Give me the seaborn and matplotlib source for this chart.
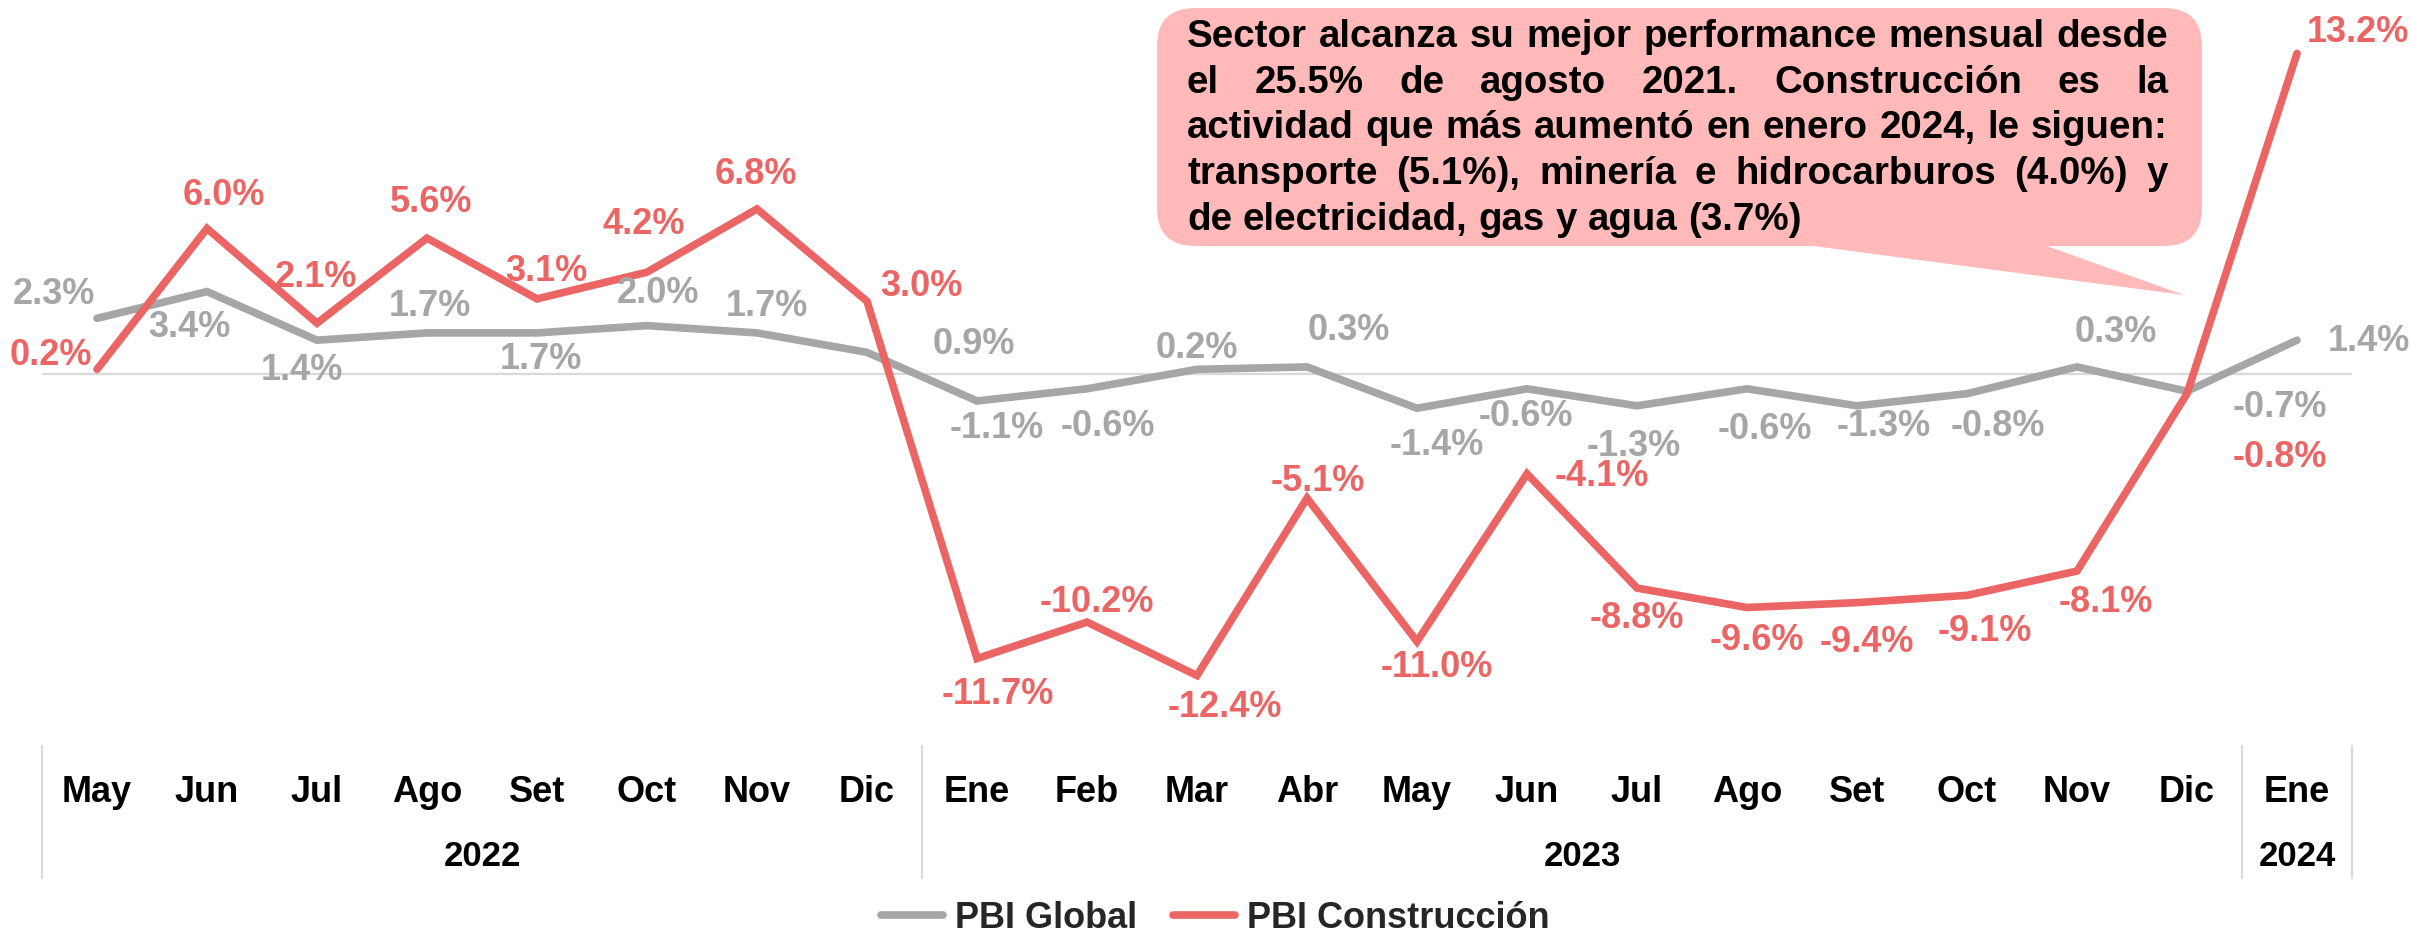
import numpy as np
import pandas as pd
import matplotlib
matplotlib.use("Agg")
import matplotlib.pyplot as plt
import seaborn as sns
from matplotlib.patches import FancyBboxPatch, Polygon
from matplotlib.lines import Line2D
from matplotlib.transforms import blended_transform_factory

# ── Data ───────────────────────────────────────────────────────────────────────
MONTHS = ["May", "Jun", "Jul", "Ago", "Set", "Oct", "Nov", "Dic",
          "Ene", "Feb", "Mar", "Abr", "May", "Jun", "Jul", "Ago", "Set", "Oct", "Nov", "Dic",
          "Ene"]
YEARS = ["2022", "2023", "2024"]
YEAR_SPANS = [(0, 7), (8, 19), (20, 20)]

PBI_GLOBAL = [2.3, 3.4, 1.4, 1.7, 1.7, 2.0, 1.7, 0.9, -1.1, -0.6, 0.2, 0.3,
              -1.4, -0.6, -1.3, -0.6, -1.3, -0.8, 0.3, -0.7, 1.4]
PBI_CONSTR = [0.2, 6.0, 2.1, 5.6, 3.1, 4.2, 6.8, 3.0, -11.7, -10.2, -12.4, -5.1,
              -11.0, -4.1, -8.8, -9.6, -9.4, -9.1, -8.1, -0.8, 13.2]

SERIES = ["PBI Global", "PBI Construcción"]

CALLOUT = [
    "Sector alcanza su mejor performance mensual desde",
    "el 25.5% de agosto 2021. Construcción es la",
    "actividad que más aumentó en enero 2024, le siguen:",
    "transporte (5.1%), minería e hidrocarburos (4.0%) y",
    "de electricidad, gas y agua (3.7%)",
]

# label offsets (points) relative to each point
GLOBAL_OFFS = [(-31, 17), (-13, -26), (-11, -22), (2, 19), (3, -19), (8, 23), (7, 19),
               (77, 6), (14, -20), (15, -27), (0, 15), (30, 26), (14, -27), (-1, -20),
               (-2, -29), (13, -29), (19, -15), (22, -24), (28, 25), (67, -12), (52, -1)]
CONSTR_OFFS = [(-33, 10), (12, 24), (-1, 33), (3, 26), (7, 20), (-2, 34), (-1, 25),
               (39, 11), (15, -26), (7, 14), (20, -23), (8, 12), (14, -19), (54, -2),
               (0, -22), (7, -24), (7, -29), (13, -26), (21, -23), (67, -46), (44, 15)]

GREY = "#A6A6A6"
RED = "#EC6565"
PINK = "#FFB9B9"
SEP = "#D9D9D9"

# ── Figure ─────────────────────────────────────────────────────────────────────
sns.set_style("white")
plt.rcParams["font.family"] = ["Liberation Sans", "DejaVu Sans"]
plt.rcParams["font.weight"] = "bold"

W, H = 24.12, 9.34
fig = plt.figure(figsize=(W, H), dpi=100)
ax = fig.add_axes([42 / 2412, 1 - 746 / 934, 2310 / 2412, 746 / 934])

n = len(MONTHS)
df = pd.DataFrame({
    "pos": list(range(n)) * 2,
    "value": PBI_GLOBAL + PBI_CONSTR,
    "serie": [SERIES[0]] * n + [SERIES[1]] * n,
})

ax.axhline(0, color=SEP, lw=1.6, zorder=1)
sns.lineplot(data=df, x="pos", y="value", hue="serie", palette=[GREY, RED],
             sort=False, lw=5.5, legend=False, ax=ax, zorder=3)
for line in ax.lines[1:]:
    line.set_solid_capstyle("round")
    line.set_solid_joinstyle("miter")

ax.set_xlim(-0.5, n - 0.5)
ax.set_ylim(-15.3, 15.4)
ax.axis("off")

for vals, offs, col in [(PBI_GLOBAL, GLOBAL_OFFS, GREY), (PBI_CONSTR, CONSTR_OFFS, RED)]:
    for i, (v, (dx, dy)) in enumerate(zip(vals, offs)):
        ax.annotate(f"{v:.1f}%", (i, v), xytext=(dx, dy), textcoords="offset points",
                    ha="center", va="center", fontsize=26, fontweight="bold",
                    color=col, zorder=4)

# ── Category table ────────────────────────────────────────────────────────────
tr = blended_transform_factory(ax.transData, fig.transFigure)
for i, m in enumerate(MONTHS):
    ax.text(i, 1 - 792 / 934, m, transform=tr, ha="center", va="center",
            fontsize=26, fontweight="bold", color="black")
for yr, (a, b) in zip(YEARS, YEAR_SPANS):
    ax.text((a + b) / 2, 1 - 857 / 934, yr, transform=tr, ha="center", va="center",
            fontsize=25, fontweight="bold", color="black")
for xs in [-0.5, 7.5, 19.5, 20.5]:
    fig.add_artist(Line2D([xs, xs], [1 - 746 / 934, 1 - 878 / 934], transform=tr,
                          color=SEP, lw=1.5, clip_on=False))

# ── Callout ───────────────────────────────────────────────────────────────────
inch = fig.dpi_scale_trans
def px(x, y):
    return (x / 100, (934 - y) / 100)

bx0, by0 = px(1157, 246)
bx1, by1 = px(2202, 8)
fig.add_artist(Polygon([px(1768, 240), px(2030, 240), px(2184, 295)], closed=True,
                       transform=inch, facecolor=PINK, edgecolor="none", zorder=5))
fig.add_artist(FancyBboxPatch((bx0, by0), bx1 - bx0, by1 - by0,
                              boxstyle="round,pad=0,rounding_size=0.38",
                              transform=inch, facecolor=PINK, edgecolor="none", zorder=5))

renderer = fig.canvas.get_renderer()
left, right = 1187 / 100, 2168 / 100

def text_w(s, size):
    t = fig.text(0, 0, s, fontsize=size, fontweight="bold", transform=inch)
    w = t.get_window_extent(renderer).width / fig.dpi
    t.remove()
    return w

# fit the first line at natural spacing to the box width
fs = 24 * (right - left) / text_w(CALLOUT[0], 24) * 0.995
space_w = text_w("a a", fs) - text_w("aa", fs)
kw = dict(fontsize=fs, fontweight="bold", color="black", va="center", ha="left",
          transform=inch, zorder=6)
centers = [37, 83, 128, 174, 220]
for k, (line, yc) in enumerate(zip(CALLOUT, centers)):
    words = line.split()
    texts = [fig.text(0, 0, w, **kw) for w in words]
    widths = [t.get_window_extent(renderer).width / fig.dpi for t in texts]
    if k == len(CALLOUT) - 1:
        gap = space_w
    else:
        gap = (right - left - sum(widths)) / (len(words) - 1)
    x = left
    for t, w in zip(texts, widths):
        t.set_position((x, (934 - yc) / 100))
        x += w + gap

# ── Legend ────────────────────────────────────────────────────────────────────
handles = [Line2D([0], [0], color=GREY, lw=5.5, solid_capstyle="round"),
           Line2D([0], [0], color=RED, lw=5.5, solid_capstyle="round")]
fig.legend(handles, SERIES, loc="center", bbox_to_anchor=(0.504, 1 - 918 / 934),
           ncol=2, frameon=False, prop={"size": 26, "weight": "bold"},
           handlelength=1.7, handletextpad=0.35, columnspacing=1.0)

fig.savefig("out.png", dpi=100)
